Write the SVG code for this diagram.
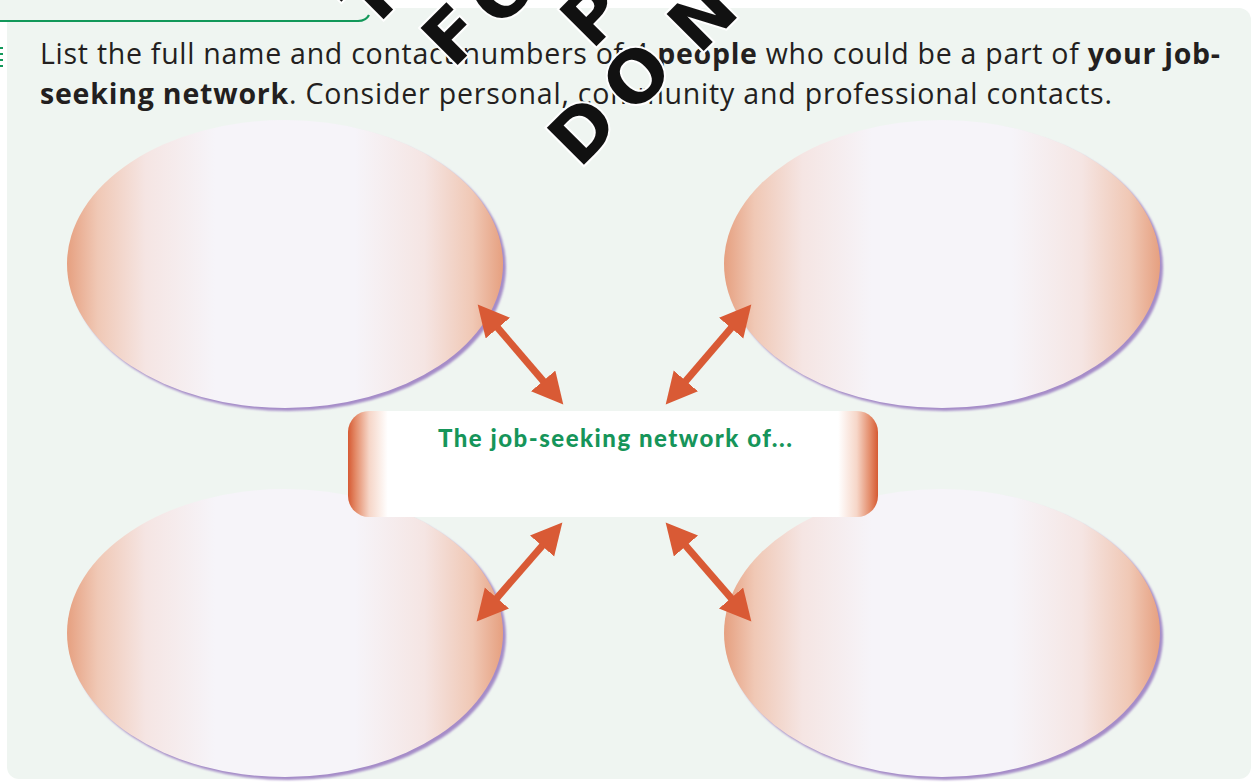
<svg xmlns="http://www.w3.org/2000/svg" width="1256" height="782" viewBox="0 0 1256 782">
<style>
.intro{font-family:"Open Sans","Liberation Sans",sans-serif;font-size:28.5px;fill:#231f20}
.b{font-weight:bold}
.title{font-family:"Lato","Liberation Sans",sans-serif;font-weight:900;font-size:24px;fill:#16955a}
.wm{font-family:"DejaVu Sans","Liberation Sans",sans-serif;font-weight:bold;font-size:72px;fill:#111;stroke:#fff;stroke-width:4;paint-order:stroke;text-anchor:middle}
.arrow{stroke:#d95a35;stroke-width:7;fill:none;marker-start:url(#head);marker-end:url(#head)}
.shadow{fill:#a58cc8}
.bubble{fill:url(#ellGrad)}
</style>
<defs>
<linearGradient id="ellGrad" x1="0" y1="0" x2="1" y2="0">
<stop offset="0" stop-color="#e6a080"/>
<stop offset="0.07" stop-color="#f0c8b5"/>
<stop offset="0.18" stop-color="#f5e5e3"/>
<stop offset="0.34" stop-color="#f6f4f9"/>
<stop offset="0.66" stop-color="#f6f4f9"/>
<stop offset="0.82" stop-color="#f5e5e3"/>
<stop offset="0.93" stop-color="#f0c8b5"/>
<stop offset="1" stop-color="#e6a080"/>
</linearGradient>
<linearGradient id="boxGrad" x1="0" y1="0" x2="1" y2="0">
<stop offset="0" stop-color="#d65a33"/>
<stop offset="0.015" stop-color="#e48c6a"/>
<stop offset="0.04" stop-color="#f6d6c8"/>
<stop offset="0.075" stop-color="#ffffff"/>
<stop offset="0.925" stop-color="#ffffff"/>
<stop offset="0.96" stop-color="#f6d6c8"/>
<stop offset="0.985" stop-color="#e48c6a"/>
<stop offset="1" stop-color="#d65a33"/>
</linearGradient>
<filter id="blur" x="-5%" y="-5%" width="110%" height="110%"><feGaussianBlur stdDeviation="1.2"/></filter>
<marker id="head" markerUnits="userSpaceOnUse" markerWidth="34" markerHeight="34" refX="21" refY="16" orient="auto-start-reverse">
<path d="M0,0 L31,16 L0,32 Z" fill="#d95a35"/>
</marker>
</defs>

<rect width="1256" height="782" fill="#ffffff"/>
<rect x="0" y="0" width="370" height="21" fill="#eff5f1"/>
<rect x="7" y="8" width="1244" height="771" rx="12" fill="#eff5f1"/>
<path d="M0,21 H358 Q366,21 369,15" fill="none" stroke="#12985a" stroke-width="2.2"/>
<g fill="#12985a"><rect x="0" y="47" width="3" height="2"/><rect x="0" y="53" width="3" height="2"/><rect x="0" y="59" width="3" height="2"/><rect x="0" y="65" width="3" height="2"/></g>

<g id="intro">
<text class="intro" x="40" y="64" textLength="1180" lengthAdjust="spacing">List the full name and contact numbers of 4 <tspan class="b">people</tspan> who could be a part of <tspan class="b">your job-</tspan></text>
<text class="intro" x="40" y="104" textLength="1072" lengthAdjust="spacing"><tspan class="b">seeking network</tspan>. Consider personal, community and professional contacts.</text>
</g>

<g id="node-top-left">
<ellipse class="shadow" cx="288" cy="267" rx="218" ry="144" filter="url(#blur)"/>
<ellipse class="bubble" cx="285" cy="264" rx="218" ry="144"/>
</g>
<g id="node-top-right">
<ellipse class="shadow" cx="945" cy="267" rx="218" ry="144" filter="url(#blur)"/>
<ellipse class="bubble" cx="942" cy="264" rx="218" ry="144"/>
</g>
<g id="node-bottom-left">
<ellipse class="shadow" cx="288" cy="636" rx="218" ry="144" filter="url(#blur)"/>
<ellipse class="bubble" cx="285" cy="633" rx="218" ry="144"/>
</g>
<g id="node-bottom-right">
<ellipse class="shadow" cx="945" cy="636" rx="218" ry="144" filter="url(#blur)"/>
<ellipse class="bubble" cx="942" cy="633" rx="218" ry="144"/>
</g>

<g id="node-center">
<rect x="348" y="411" width="530" height="106" rx="21" fill="url(#boxGrad)"/>
<text class="title" x="438" y="447" textLength="354" lengthAdjust="spacing">The job-seeking network of...</text>
</g>

<g id="connectors">
<line class="arrow" x1="484.2" y1="312.1" x2="556.8" y2="396.9"/>
<line class="arrow" x1="744.8" y1="312.1" x2="672.2" y2="396.9"/>
<line class="arrow" x1="555.8" y1="530.1" x2="483.2" y2="613.9"/>
<line class="arrow" x1="672.2" y1="530.1" x2="744.8" y2="613.9"/>
</g>

<g id="watermark">
<text class="wm" transform="translate(370,-4) rotate(-45)" dy="0.36em">T</text>
<text class="wm" transform="translate(452,34) rotate(-45)" dy="0.36em">F</text>
<text class="wm" transform="translate(502,-10) rotate(-45)" dy="0.36em">O</text>
<text class="wm" transform="translate(592,14) rotate(-45)" dy="0.36em">P</text>
<text class="wm" transform="translate(582,130) rotate(-45)" dy="0.36em">D</text>
<text class="wm" transform="translate(636,76) rotate(-45)" dy="0.36em">O</text>
<text class="wm" transform="translate(702,16) rotate(-45)" dy="0.36em">N</text>
</g>
</svg>
